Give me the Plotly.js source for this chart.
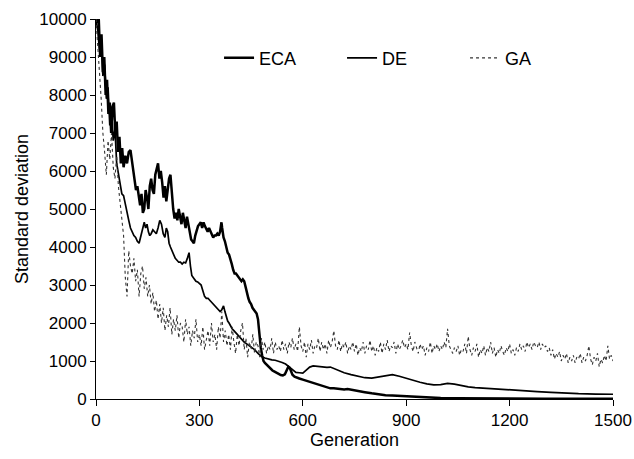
<!DOCTYPE html>
<html>
<head>
<meta charset="utf-8">
<script src="https://cdn.plot.ly/plotly-3.0.1.min.js"></script>
<style>html,body{margin:0;padding:0;background:#fff;}#chart{width:634px;height:459px;}</style>
</head>
<body>
<div id="chart"></div>
<script>
var seriesNames = ['ECA', 'DE', 'GA'];
var xTicks = [0, 300, 600, 900, 1200, 1500];
var yTicks = [0, 1000, 2000, 3000, 4000, 5000, 6000, 7000, 8000, 9000, 10000];

var ecaGen = [0,5,8,12,16,20,24,28,32,36,40,44,48,52,56,60,64,68,72,76,80,85,90,95,100,104,108,112,116,120,124,128,132,136,140,144,148,152,156,160,164,168,172,176,180,184,188,192,196,200,204,208,212,216,220,224,228,232,236,240,244,248,252,256,260,264,268,272,276,280,284,288,292,296,300,304,308,312,316,320,324,328,332,336,340,344,348,352,356,360,364,366,370,374,378,382,386,390,394,398,402,406,410,414,418,422,426,430,434,438,442,446,450,454,458,462,466,470,474,478,482,486,490,495,500,506,512,518,524,530,536,542,548,554,558,562,566,570,576,582,590,600,610,620,630,640,650,660,670,680,690,700,710,720,730,740,760,780,800,820,840,860,880,900,930,960,1000,1050,1100,1200,1300,1400,1500];
var ecaVal = [10000,9900,10000,9000,9600,8600,9000,8000,8400,7500,7800,7000,7700,7800,7000,7300,6500,6900,6200,6600,6100,6400,6200,6500,6550,6300,6000,5800,5500,5600,5300,5100,5400,4900,5000,5500,5300,5000,5600,5800,5500,5400,5900,6100,6200,5800,6000,5700,5300,5600,5200,5500,5800,5900,5400,5000,4750,4900,4700,5000,4800,4600,4900,4700,4500,4800,4600,4400,4200,4150,4100,4300,4450,4550,4600,4650,4500,4650,4550,4450,4400,4500,4400,4300,4250,4300,4300,4350,4300,4400,4650,4500,4250,4150,4000,3850,3800,3700,3550,3400,3300,3300,3250,3200,3150,3100,3150,3100,2950,2750,2650,2550,2500,2400,2350,2300,2250,2100,1700,1350,1150,1000,950,900,850,800,750,720,700,660,630,620,650,750,850,820,720,640,590,560,540,510,480,450,420,400,380,350,310,280,280,270,260,250,260,240,210,180,150,120,100,90,80,60,45,35,25,20,15,10,8,5,5];

var deGen = [0,5,10,15,20,25,30,35,40,45,50,55,60,65,70,75,80,85,90,95,100,105,110,115,120,125,130,135,140,144,148,152,156,160,165,170,175,180,185,190,195,200,204,208,212,216,220,225,230,235,240,245,250,255,260,265,270,274,278,282,286,290,295,300,305,310,315,320,325,330,335,340,345,350,355,360,365,370,374,378,382,386,390,395,400,405,410,415,420,430,440,450,460,470,480,490,500,510,520,530,540,550,560,570,580,590,600,610,620,630,640,650,660,670,680,690,700,710,720,740,760,780,800,820,840,860,880,900,920,940,960,980,1000,1020,1040,1060,1080,1100,1130,1160,1200,1240,1280,1320,1360,1400,1450,1500];
var deVal = [10000,9700,9200,9500,8500,8800,7900,8200,7200,7600,6800,7100,6200,5900,5600,5400,5350,5100,4900,4700,4500,4400,4300,4250,4150,4100,4300,4450,4650,4500,4600,4400,4300,4350,4450,4400,4350,4500,4700,4600,4350,4250,4500,4400,4100,4000,3900,3800,3700,3650,3600,3600,3550,3600,3580,3700,3850,3500,3250,3200,3150,3100,3080,3050,3000,2850,2700,2650,2650,2600,2550,2500,2450,2400,2350,2300,2350,2450,2300,2150,2050,2000,1920,1850,1800,1750,1700,1640,1600,1500,1430,1360,1300,1200,1120,1080,1050,1030,1020,1000,960,920,850,760,700,690,680,760,840,870,860,850,840,830,840,800,750,720,690,640,600,560,550,580,620,640,600,540,480,440,400,370,380,410,390,350,320,300,280,260,240,220,195,175,155,140,130,125];

var gaGen = [];
for (var g = 0; g <= 1500; g += 5) gaGen.push(g);
var gaVal = [
10000,9400,8600,7900,7000,6500,5900,6800,6300,7000,
6100,5800,6400,5600,5200,4800,4300,3200,2700,3900,
3500,3300,3700,3100,3400,2700,3300,3500,2900,3200,
2700,3000,2500,2800,2300,2600,2100,2500,2000,2400,
1800,2200,1900,2400,1700,2100,1800,2200,1600,2000,
1900,1500,2100,1700,1900,1400,1800,1600,2100,1500,
1700,1400,1900,1300,1600,1800,1400,2000,1500,1700,
1300,1900,1600,2300,1500,1800,1400,1700,1300,1900,
1500,1200,1700,1400,1800,2000,1300,1600,1100,1500,
1300,1700,1200,1500,1400,1100,1600,1300,1500,1200,
1400,1300,1600,1200,1500,1300,1400,1250,1550,1300,
1450,1200,1500,1350,1600,1300,1450,1250,1900,1400,
1250,1500,1100,1450,1300,1550,1200,1400,1350,1600,
1250,1500,1300,1450,1200,1550,1350,1500,1800,1400,
1300,1550,1250,1450,1350,1500,1200,1400,1300,1500,
1250,1450,1150,1350,1250,1500,1200,1400,1300,1550,
1250,1400,1150,1350,1250,1500,1200,1450,1300,1550,
1250,1400,1350,1500,1200,1450,1300,1400,1550,1350,
1450,1300,1750,1400,1250,1500,1350,1200,1450,1300,
1400,1150,1350,1250,1500,1200,1400,1300,1450,1250,
1400,1300,1500,1350,1850,1400,1300,1200,1350,1250,
1400,1150,1300,1250,1450,1200,1650,1300,1150,1350,
1250,1450,1100,1300,1200,1400,1150,1350,1250,1500,
1200,1350,1100,1300,1200,1400,1250,1150,1350,1250,
1450,1200,1300,1150,1350,1250,1450,1300,1400,1250,
1500,1350,1450,1300,1500,1400,1350,1500,1300,1450,
1350,1400,1250,1350,1150,1300,1050,1200,1100,1250,
1000,1150,1050,1200,950,1100,1000,1150,950,1100,
1050,1200,950,1100,1000,1150,1400,1050,900,1100,
1000,1200,850,1050,950,1150,1000,1400,1050,1150,
1000];

var fontFam = '"Liberation Sans", Arial, Helvetica, sans-serif';

var traces = [
  {x: ecaGen, y: ecaVal, name: seriesNames[0], type: 'scatter', mode: 'lines',
   line: {color: '#000000', width: 2.5}},
  {x: deGen, y: deVal, name: seriesNames[1], type: 'scatter', mode: 'lines',
   line: {color: '#000000', width: 1.7}},
  {x: gaGen, y: gaVal, name: seriesNames[2], type: 'scatter', mode: 'lines',
   line: {color: '#333333', width: 1.1, dash: 'dot'}}
];

var layout = {
  width: 634, height: 459,
  margin: {l: 96, r: 21, t: 19, b: 60},
  paper_bgcolor: '#ffffff', plot_bgcolor: '#ffffff',
  font: {family: fontFam, size: 17, color: '#000'},
  showlegend: true,
  legend: {orientation: 'h', x: 0.238, xanchor: 'left', y: 0.897, yanchor: 'middle',
    font: {family: fontFam, size: 18, color: '#000'}, bgcolor: 'rgba(0,0,0,0)',
    entrywidth: 78, entrywidthmode: 'pixels'},
  xaxis: {range: [0, 1500], tickvals: xTicks, ticktext: xTicks.map(String),
    showgrid: false, zeroline: false, showline: true, linecolor: '#000', linewidth: 1,
    ticks: 'outside', ticklen: 6, tickcolor: '#000', tickwidth: 1,
    tickfont: {family: fontFam, size: 17, color: '#000'},
    title: {text: 'Generation', font: {family: fontFam, size: 18, color: '#000'}, standoff: 2}},
  yaxis: {range: [0, 10000], tickvals: yTicks, ticktext: yTicks.map(String),
    showgrid: false, zeroline: false, showline: true, linecolor: '#000', linewidth: 1,
    ticks: 'outside', ticklen: 5, tickcolor: '#000', tickwidth: 1,
    tickfont: {family: fontFam, size: 17, color: '#000'},
    title: {text: 'Standard deviation', font: {family: fontFam, size: 18, color: '#000'}, standoff: 6}},
  hovermode: false
};

Plotly.newPlot('chart', traces, layout, {displayModeBar: false, staticPlot: true});
</script>
</body>
</html>
